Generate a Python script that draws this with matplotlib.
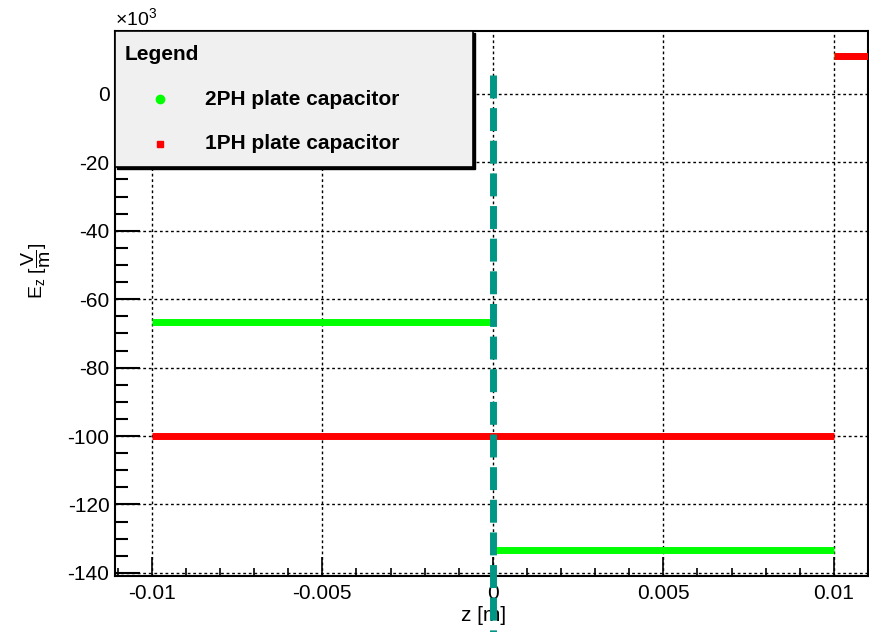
import matplotlib
matplotlib.use("Agg")
from matplotlib import pyplot as plt
from matplotlib.patches import Rectangle
from matplotlib.lines import Line2D

plt.rcParams['font.family'] = ['Liberation Sans', 'DejaVu Sans']
plt.rcParams['mathtext.fontset'] = 'custom'
plt.rcParams['mathtext.rm'] = 'Liberation Sans'
plt.rcParams['mathtext.it'] = 'Liberation Sans'
plt.rcParams['axes.unicode_minus'] = False

# horizontal segments: (z start, z end, E_z in 1e3 V/m)
label_2ph = "2PH plate capacitor"
seg_2ph = [(-0.01, 0.0, -66.7), (0.0, 0.01, -133.3), (0.01, 0.0112, 11.1)]
label_1ph = "1PH plate capacitor"
seg_1ph = [(-0.0112, -0.01, 3.8), (-0.01, 0.01, -100.0), (0.01, 0.0112, 11.1)]
# vertical dashed line at z = 0
vline_z = 0.0
vline_y = [5.6, -158.0]

xticks = [-0.01, -0.005, 0, 0.005, 0.01]
xticklabels = ["-0.01", "-0.005", "0", "0.005", "0.01"]
yticks = [0, -20, -40, -60, -80, -100, -120, -140]

green = '#00ff00'
red = '#ff0000'
teal = '#009685'

fig = plt.figure(figsize=(8.69, 6.32), dpi=100)
ax = fig.add_axes([115/869, 1-576/632, 753/869, 545/632])

for z0, z1, v in seg_1ph:
    ax.plot([z0, z1], [v, v], color=red, lw=5, solid_capstyle='butt', zorder=3)
for z0, z1, v in seg_2ph:
    ax.plot([z0, z1], [v, v], color=green, lw=5, solid_capstyle='butt', zorder=2)

ax.plot([vline_z, vline_z], vline_y, color=teal, lw=5, dashes=(3.3, 1.4),
        dash_capstyle='butt', clip_on=False, zorder=4)

ax.set_xlim(-0.01108, 0.01097)
ax.set_ylim(-140.9, 18.4)
ax.set_xticks(xticks)
ax.set_xticklabels(xticklabels)
ax.set_yticks(yticks)
ax.set_xticks([i * 0.001 for i in range(-11, 12)], minor=True)
ax.set_yticks([-140 + 5 * i for i in range(0, 32)], minor=True)
ax.tick_params(axis='both', which='both', direction='in', top=False, right=False,
               labelsize=15, colors='black')
ax.tick_params(axis='y', which='major', length=18, width=1.5, pad=4)
ax.tick_params(axis='y', which='minor', length=9, width=1.5)
ax.tick_params(axis='x', which='major', length=14, width=1.2, pad=6)
ax.tick_params(axis='x', which='minor', length=6, width=1.2)
for s in ax.spines.values():
    s.set_linewidth(1.5)

ax.grid(True, which='major', color='black', linestyle=(0, (2, 2)), linewidth=1)
ax.set_axisbelow(True)

ax.set_xlabel("z [m]", fontsize=15, labelpad=2)
ax.xaxis.set_label_coords(0.49, -0.055)
ax.set_ylabel(r"E$_{z}$ [$\dfrac{V}{m}$]", fontsize=14)
ax.yaxis.set_label_coords(-0.082, 0.56)

fig.text(115/869, 1-18/632, r"$\times10^{3}$", fontsize=14, va='center', ha='left')

# legend box
shadow = Rectangle((0.003, 0.746), 0.475, 0.25, transform=ax.transAxes,
                   fc='black', ec='black', zorder=5, clip_on=False)
box = Rectangle((0.0, 0.750), 0.475, 0.25, transform=ax.transAxes,
                fc='#f0f0f0', ec='black', lw=1.2, zorder=6, clip_on=False)
ax.add_patch(shadow)
ax.add_patch(box)
ax.text(0.013, 0.956, "Legend", transform=ax.transAxes, fontsize=15,
        fontweight='bold', va='center', ha='left', zorder=7)
ax.add_line(Line2D([0.0598], [0.875], transform=ax.transAxes, marker='o',
                   ms=6, color=green, ls='none', zorder=7))
ax.add_line(Line2D([0.0598], [0.793], transform=ax.transAxes, marker='s',
                   ms=5, color=red, ls='none', zorder=7))
ax.text(0.1195, 0.875, label_2ph, transform=ax.transAxes, fontsize=15,
        fontweight='bold', va='center', ha='left', zorder=7)
ax.text(0.1195, 0.793, label_1ph, transform=ax.transAxes, fontsize=15,
        fontweight='bold', va='center', ha='left', zorder=7)

fig.savefig("out.png", dpi=100)
